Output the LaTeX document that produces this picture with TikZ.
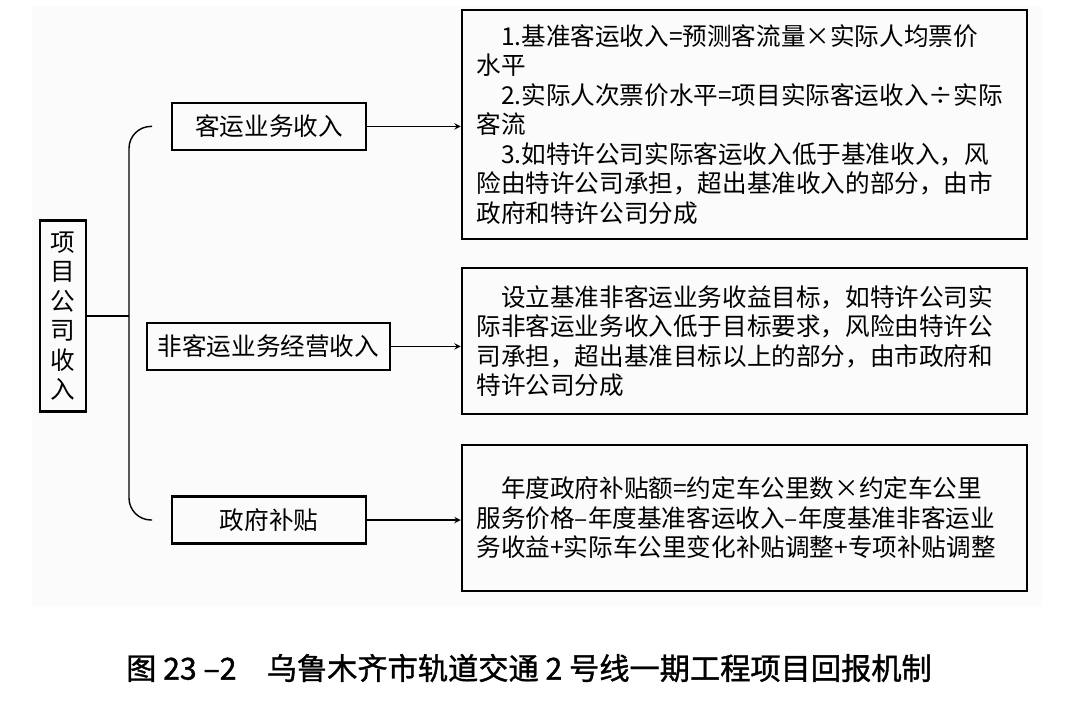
\documentclass[tikz,border=0pt]{standalone}
\usepackage{fontspec}
\setmainfont{Noto Sans CJK SC}
\newfontfamily\capfont[FakeBold=1.2]{Noto Sans CJK SC}

\begin{document}
\begin{tikzpicture}[every node/.style={align=center, font=\fontsize{17.5}{21}\selectfont}, >=stealth]
    % 样式
    \tikzstyle{root} = [rectangle, draw=black, line width=1.8pt, minimum width=1.15cm, minimum height=4.78cm, inner sep=0pt]
    \tikzstyle{item} = [rectangle, draw=black, line width=1.8pt, minimum height=1.17cm]
    \tikzstyle{detail} = [rectangle, draw=black, line width=1.8pt, minimum width=14.12cm, text width=13.4cm, inner sep=0.36cm, align=left]
    \tikzstyle{arrow} = [line width=1pt,->]
    \tikzstyle{link} = [line width=1pt]

    % 边界与底色
    \useasboundingbox (0,0) rectangle (27,-17.675);
    \fill[black!1.5] (0.8,-0.15) rectangle (26.05,-15.15);

    % 根节点
    \node[root] (R) at (1.575,-7.9) {项\\目\\公\\司\\收\\入};

    % 收入节点
    \node[item, minimum width=4.85cm] (A) at (6.725,-3.16) {客运业务收入};
    \node[item, minimum width=6.07cm] (B) at (6.71,-8.66) {非客运业务经营收入};
    \node[item, minimum width=4.85cm] (C) at (6.725,-13.0) {政府补贴};

    % 说明节点
    \node[detail, minimum height=5.57cm] (D1) at (18.61,-3.11) {\hspace*{1em}1.基准客运收入=预测客流量×实际人均票价\\水平\\\hspace*{1em}2.实际人次票价水平=项目实际客运收入÷实际\\客流\\\hspace*{1em}3.如特许公司实际客运收入低于基准收入，风\\险由特许公司承担，超出基准收入的部分，由市\\政府和特许公司分成};
    \node[detail, minimum height=3.65cm] (D2) at (18.61,-8.525) {\hspace*{1em}设立基准非客运业务收益目标，如特许公司实\\际非客运业务收入低于目标要求，风险由特许公\\司承担，超出基准目标以上的部分，由市政府和\\特许公司分成};
    \node[detail, minimum height=3.65cm] (D3) at (18.61,-12.95) {\hspace*{1em}年度政府补贴额=约定车公里数×约定车公里\\服务价格–年度基准客运收入–年度基准非客运业\\务收益+实际车公里变化补贴调整+专项补贴调整};

    % 括线
    \coordinate (Bt) at (3.8,-3.16);
    \coordinate (Bm) at (3.225,-7.9);
    \coordinate (Bb) at (3.8,-13.0);
    \draw[link, rounded corners=0.55cm] (Bt) -| (Bm) |- (Bb);
    \draw[link] (R.east) -- (Bm);

    % 箭头
    \draw[arrow] (A) -- (A -| D1.west);
    \draw[arrow] (B) -- (B -| D2.west);
    \draw[arrow] (C) -- (C -| D3.west);

    % 图题
    \node[font=\fontsize{21.5}{25}\capfont] (T) at (13.225,-16.7) {图 23 –2\quad 乌鲁木齐市轨道交通 2 号线一期工程项目回报机制};
\end{tikzpicture}
\end{document}
